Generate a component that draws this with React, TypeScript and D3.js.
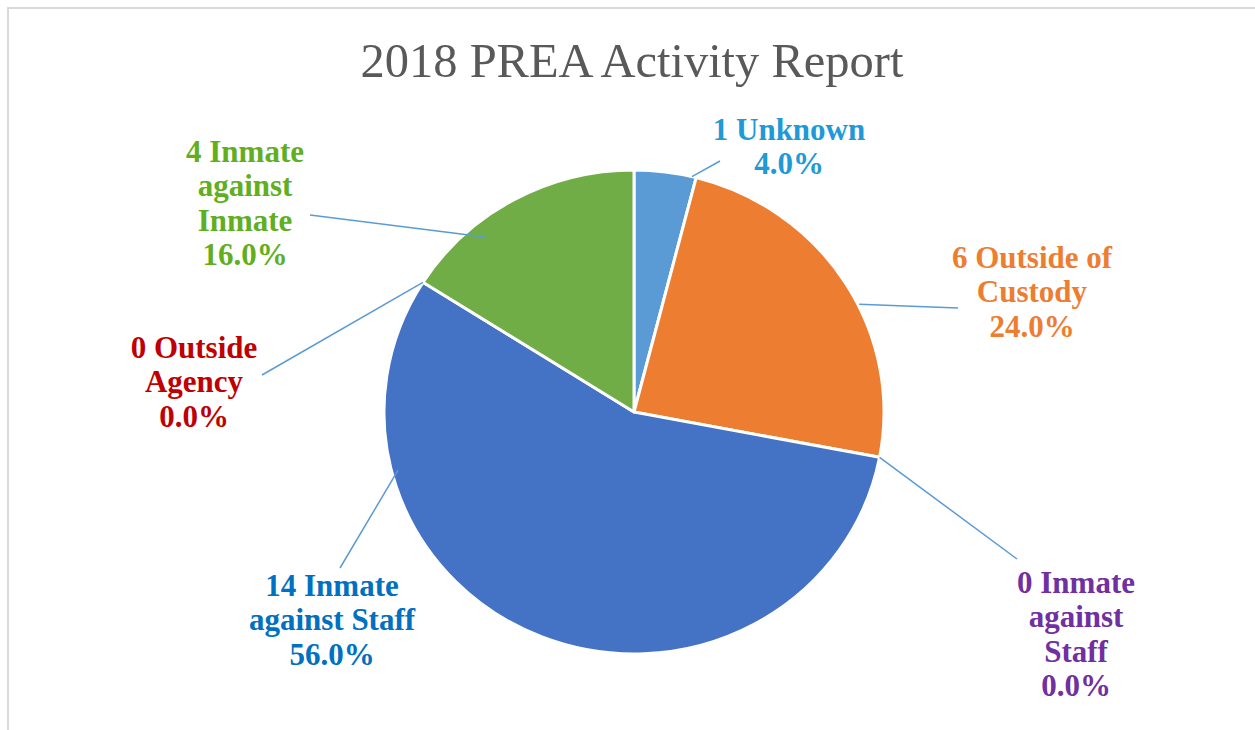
import React from "react";
import * as d3 from "d3";

const categories = [
  "Unknown",
  "Outside of Custody",
  "Inmate against Staff (0)",
  "Inmate against Staff",
  "Outside Agency",
  "Inmate against Inmate",
];
const values = [1, 6, 0, 14, 0, 4];
const sliceColors = ["#5B9BD5", "#ED7D31", "#A5A5A5", "#4472C4", "#FFC000", "#70AD47"];
const labelLines = [
  ["1 Unknown", "4.0%"],
  ["6 Outside of", "Custody", "24.0%"],
  ["0 Inmate", "against", "Staff", "0.0%"],
  ["14 Inmate", "against Staff", "56.0%"],
  ["0 Outside", "Agency", "0.0%"],
  ["4 Inmate", "against", "Inmate", "16.0%"],
];
const labelColors = ["#1E9AD6", "#ED7D31", "#7030A0", "#0070C0", "#C00000", "#5FAF1F"];
const title = "2018 PREA Activity Report";

// layout (positions only)
const W = 1255;
const H = 730;
const cx = 634;
const cy = 412;
const rx = 250;
const ry = 242;
const labelLayout = [
  { x: 789, y: 140, aDeg: 13.4, rf: 1.0, ex: 720, ey: 161 },
  { x: 1032, y: 268, aDeg: 63.7, rf: 1.005, ex: 958, ey: 308 },
  { x: 1076, y: 593, aDeg: 100.8, rf: 1.0, ex: 1017, ey: 559 },
  { x: 332, y: 596, aDeg: 255.7, rf: 0.974, ex: 340, ey: 568 },
  { x: 194, y: 358, aDeg: 302.4, rf: 1.0, ex: 262, ey: 375 },
  { x: 245, y: 162, aDeg: 320.5, rf: 0.937, ex: 310, ey: 215 },
];
const lineGap = 34.3;

export default function App() {
  const pie = d3.pie<number>().sort(null).value((d) => d)(values);
  const arc = d3.arc<d3.PieArcDatum<number>>().innerRadius(0).outerRadius(ry);
  const pt = (aDeg: number, rf: number) => {
    const a = (aDeg * Math.PI) / 180;
    return [cx + rx * rf * Math.sin(a), cy - ry * rf * Math.cos(a)];
  };
  return (
    <svg
      width={W}
      height={H}
      style={{ position: "absolute", left: 0, top: 0, display: "block", background: "#fff" }}
    >
      <rect x={8} y={8} width={W + 20} height={H + 20} fill="#fff" stroke="#D9D9D9" strokeWidth={2} />
      <text
        x={632}
        y={77}
        textAnchor="middle"
        fontFamily="'Liberation Serif', 'Times New Roman', serif"
        fontSize={48.5}
        fill="#595959"
      >
        {title}
      </text>
      <g transform={`translate(${cx},${cy}) scale(${rx / ry},1)`}>
        {pie.map((p, i) =>
          p.endAngle - p.startAngle > 0 ? (
            <path
              key={categories[i]}
              d={arc(p) || ""}
              fill={sliceColors[i]}
              stroke="#fff"
              strokeWidth={3}
              vectorEffect="non-scaling-stroke"
              strokeLinejoin="round"
            />
          ) : null
        )}
      </g>
      {labelLayout.map((l, i) => {
        const [sx, sy] = pt(l.aDeg, l.rf);
        return (
          <line
            key={"ln" + i}
            x1={sx}
            y1={sy}
            x2={l.ex}
            y2={l.ey}
            stroke="#5B9BD5"
            strokeWidth={1.5}
          />
        );
      })}
      {labelLayout.map((l, i) => (
        <text
          key={"lb" + i}
          x={l.x}
          y={l.y}
          textAnchor="middle"
          fontFamily="'Liberation Serif', 'Times New Roman', serif"
          fontWeight="bold"
          fontSize={31}
          fill={labelColors[i]}
        >
          {labelLines[i].map((t, j) => (
            <tspan key={j} x={l.x} y={l.y + j * lineGap}>
              {t}
            </tspan>
          ))}
        </text>
      ))}
    </svg>
  );
}
